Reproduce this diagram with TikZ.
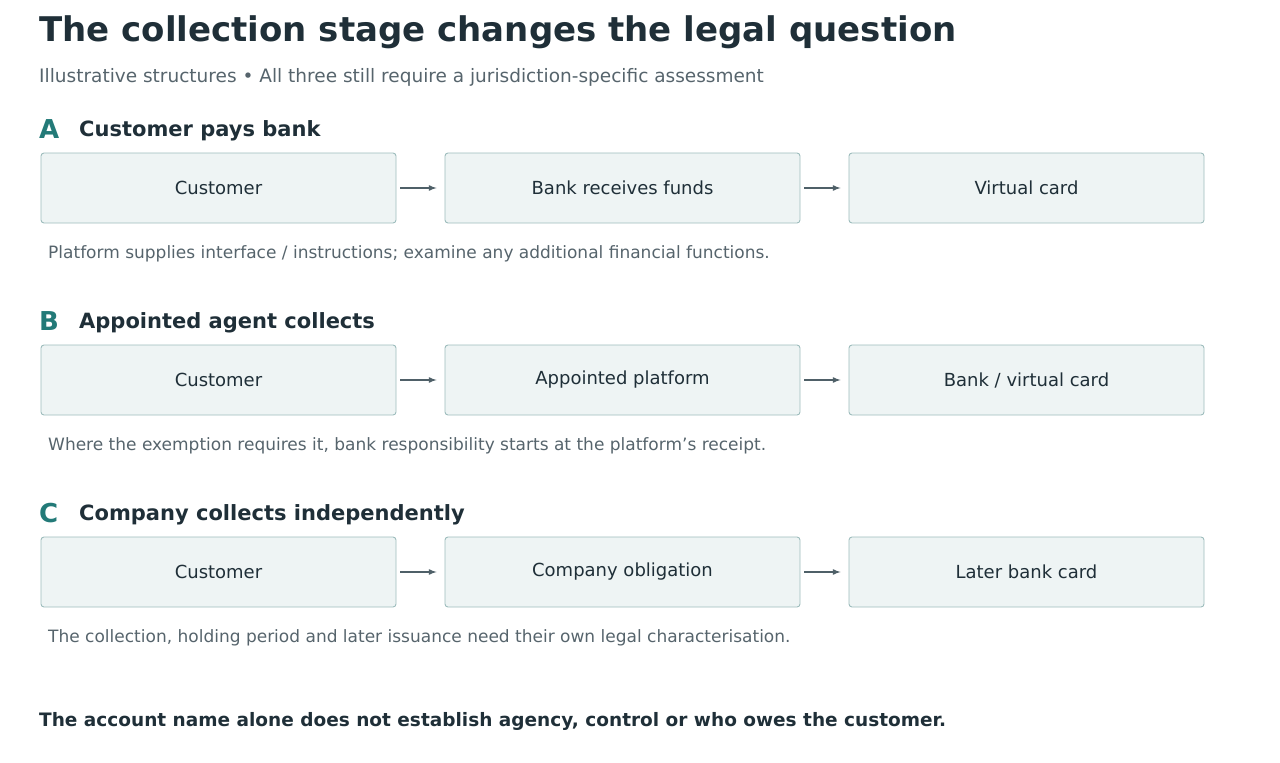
\documentclass[tikz,border=0pt]{standalone}
\usepackage{fontspec}
\setmainfont{DejaVu Sans}
\usetikzlibrary{positioning}
\definecolor{ink}{HTML}{1F2F38}
\definecolor{muted}{HTML}{56646C}
\definecolor{teal}{HTML}{237A78}
\definecolor{boxfill}{HTML}{EEF4F4}
\definecolor{boxline}{HTML}{9DBCBC}
\definecolor{arrowc}{HTML}{4F6068}
\begin{document}
\begin{tikzpicture}[x=1pt,y=-1pt]
       \tikzset{stepbox/.style={draw=boxline, fill=boxfill, rounded corners=3pt, line width=0.9pt,
         minimum width=355pt, minimum height=70pt, text=ink, font=\fontsize{18}{20}\selectfont}}
       \tikzset{flow/.style={draw=arrowc, line width=1.6pt, -latex}}
       \tikzset{note/.style={anchor=west, text=muted, font=\fontsize{17}{20}\selectfont, inner sep=0pt}}
       \tikzset{letter/.style={anchor=west, text=teal, font=\fontsize{26}{28}\selectfont\bfseries, inner sep=0pt}}
       \tikzset{heading/.style={anchor=west, text=ink, font=\fontsize{21}{24}\selectfont\bfseries, inner sep=0pt}}
       \useasboundingbox (0,0) rectangle (1280,763);
       \node[anchor=west, inner sep=0pt, text=ink, font=\fontsize{34}{38}\selectfont\bfseries] (title) at (39,32) {The collection stage changes the legal question};
       \node[anchor=west, inner sep=0pt, text=muted, font=\fontsize{18.5}{22}\selectfont] (subtitle) at (39,77) {Illustrative structures • All three still require a jurisdiction-specific assessment};
       \foreach \id/\y/\head/\mid/\last/\txt in {
         A/0/Customer pays bank/Bank receives funds/Virtual card/{Platform supplies interface / instructions; examine any additional financial functions.},
         B/192/Appointed agent collects/Appointed platform/Bank \slash\ virtual card/{Where the exemption requires it, bank responsibility starts at the platform’s receipt.},
         C/384/Company collects independently/Company obligation/Later bank card/{The collection, holding period and later issuance need their own legal characterisation.}} {
        \node[letter] (l\id) at (39,129+\y) {\id};
        \node[heading] (h\id) at (79,131+\y) {\head};
        \node[stepbox] (a\id) at (218.5,188+\y) {Customer};
        \node[stepbox] (b\id) at (622.5,188+\y) {\mid};
        \node[stepbox] (c\id) at (1026.5,188+\y) {\last};
        \draw[flow] ([xshift=4pt]a\id.east) -- ([xshift=-8pt]b\id.west);
        \draw[flow] ([xshift=4pt]b\id.east) -- ([xshift=-8pt]c\id.west);
        \node[note] (n\id) at (48,254+\y) {\txt};
       }
       \node[anchor=west, inner sep=0pt, text=ink, font=\fontsize{18.5}{22}\selectfont\bfseries] (footer) at (39,721) {The account name alone does not establish agency, control or who owes the customer.};
      \end{tikzpicture}
\end{document}
